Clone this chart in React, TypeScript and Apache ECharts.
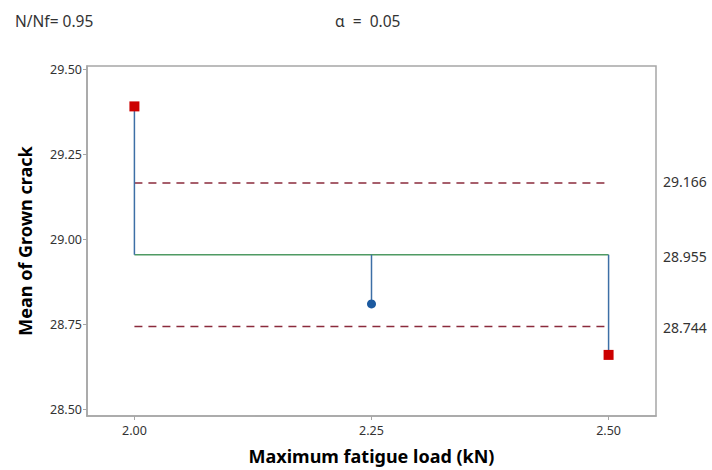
import React, { useEffect, useRef } from "react";
import * as echarts from "echarts";

const loads = [2.0, 2.25, 2.5];
const means = [29.392, 28.81, 28.66];
const centerLine = 28.955;
const upperLimit = 29.166;
const lowerLimit = 28.744;
const yTicks = [28.5, 28.75, 29.0, 29.25, 29.5];
const xTicks = [2.0, 2.25, 2.5];
const titleLeft = "N/Nf= 0.95";
const titleAlpha = "\u03b1  =  0.05";

const FONT = "'Noto Sans', 'Open Sans', sans-serif";

export default function App() {
  const ref = useRef<HTMLDivElement>(null);
  useEffect(() => {
    if (!ref.current) return;
    const chart = echarts.init(ref.current, undefined, { renderer: "svg" });
    const xMin = loads[0];
    const xMax = loads[loads.length - 1];

    const stems: any[] = [];
    loads.forEach((x, i) => {
      stems.push([x, means[i]]);
      stems.push([x, centerLine]);
      stems.push("-");
    });

    const refLabel = (v: number) => ({
      silent: true,
      symbol: "none",
      lineStyle: { color: "rgba(0,0,0,0)", width: 0 },
      label: {
        show: true,
        position: "end",
        distance: 7,
        formatter: v.toFixed(3),
        color: "#333",
        fontSize: 14,
        fontFamily: FONT,
      },
      data: [{ yAxis: v }],
    });

    chart.setOption({
      animation: false,
      textStyle: { fontFamily: FONT },
      title: [
        {
          text: titleLeft,
          left: 10,
          top: 8,
          textStyle: { fontSize: 15.5, fontWeight: "normal", color: "#333", fontFamily: FONT },
        },
        {
          text: titleAlpha,
          left: 330,
          top: 8,
          textStyle: { fontSize: 15.5, fontWeight: "normal", color: "#333", fontFamily: FONT },
        },
      ],
      grid: {
        left: 87,
        top: 66,
        width: 569,
        height: 355,
        show: true,
        borderColor: "#a6a6a6",
        borderWidth: 1.5,
        containLabel: false,
      },
      xAxis: {
        type: "value",
        min: 1.95,
        max: 2.55,
        name: "Maximum fatigue load (kN)",
        nameLocation: "middle",
        nameGap: 31,
        nameTextStyle: { fontSize: 18, fontWeight: "bold", color: "#000", fontFamily: FONT },
        axisLine: { show: true, lineStyle: { color: "#a6a6a6", width: 1.5 } },
        axisTick: { show: true, customValues: xTicks, length: 4, lineStyle: { color: "#a6a6a6" } },
        axisLabel: {
          customValues: xTicks,
          formatter: (v: number) => v.toFixed(2),
          color: "#333",
          fontSize: 12.5,
          margin: 8,
          fontFamily: FONT,
        },
        splitLine: { show: false },
      },
      yAxis: {
        type: "value",
        min: 28.48,
        max: 29.511,
        name: "Mean of Grown crack",
        nameLocation: "middle",
        nameGap: 53,
        nameTextStyle: { fontSize: 18, fontWeight: "bold", color: "#000", fontFamily: FONT },
        axisLine: { show: true, lineStyle: { color: "#a6a6a6", width: 1.5 } },
        axisTick: { show: true, customValues: yTicks, length: 4, lineStyle: { color: "#a6a6a6" } },
        axisLabel: {
          customValues: yTicks,
          formatter: (v: number) => v.toFixed(2),
          color: "#333",
          fontSize: 12.5,
          margin: 5,
          fontFamily: FONT,
        },
        splitLine: { show: false },
      },
      series: [
        {
          type: "line",
          name: "UDL",
          data: [[xMin, upperLimit], [xMax, upperLimit]],
          symbol: "none",
          lineStyle: { color: "#8b2b3c", width: 1.5, type: [8, 6] },
          markLine: refLabel(upperLimit),
        },
        {
          type: "line",
          name: "LDL",
          data: [[xMin, lowerLimit], [xMax, lowerLimit]],
          symbol: "none",
          lineStyle: { color: "#8b2b3c", width: 1.5, type: [8, 6] },
          markLine: refLabel(lowerLimit),
        },
        {
          type: "line",
          name: "Center",
          data: [[xMin, centerLine], [xMax, centerLine]],
          symbol: "none",
          lineStyle: { color: "#4f9a63", width: 1.5 },
          markLine: refLabel(centerLine),
        },
        {
          type: "line",
          name: "Stems",
          data: stems,
          connectNulls: false,
          symbol: "none",
          lineStyle: { color: "#3d6fa6", width: 1.5 },
        },
        {
          type: "scatter",
          name: "Means",
          data: loads.map((x, i) => {
            const out = means[i] > upperLimit || means[i] < lowerLimit;
            return {
              value: [x, means[i]],
              symbol: out ? "rect" : "circle",
              symbolSize: out ? 10 : 9,
              itemStyle: { color: out ? "#cc0000" : "#1c5aa0", opacity: 1 },
            };
          }),
          z: 5,
        },
      ],
    });
    return () => chart.dispose();
  }, []);
  return (
    <div
      ref={ref}
      style={{ position: "fixed", left: 0, top: 0, width: 712, height: 470, background: "#fff" }}
    />
  );
}
